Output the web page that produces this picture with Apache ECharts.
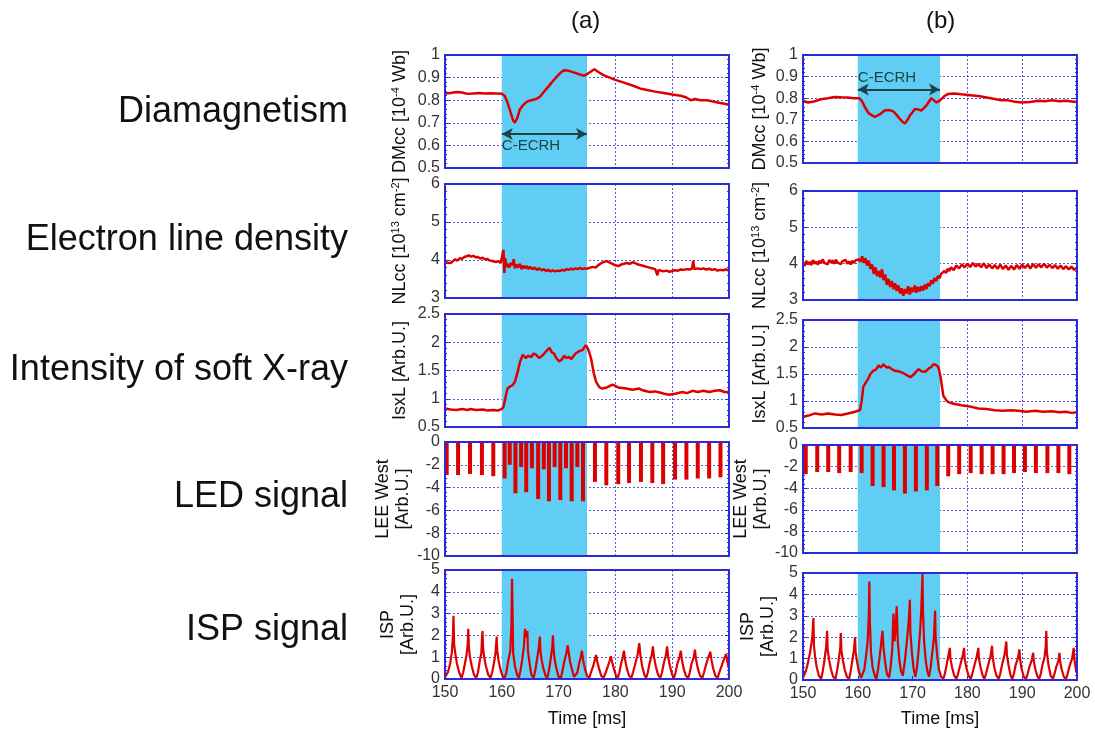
<!DOCTYPE html>
<html><head><meta charset="utf-8">
<script src="https://cdn.jsdelivr.net/npm/echarts@6/dist/echarts.min.js"></script>
<style>html,body{margin:0;padding:0;background:#fff}#c{width:1095px;height:729px}</style>
</head><body><div id="c"></div>
<script>
// ---------- data ----------
const COLUMN_TITLES = ['(a)', '(b)'];
const ROW_LABELS = ['Diamagnetism', 'Electron line density', 'Intensity of soft X-ray', 'LED signal', 'ISP signal'];
const Y_NAMES = ['DMcc [10{sup|-4} Wb]', 'NLcc [10{sup|13} cm{sup|-2}]', 'IsxL [Arb.U.]', 'LEE West\n[Arb.U.]', 'ISP\n[Arb.U.]'];
const Y_MIN = [0.5, 3, 0.5, -10, 0];
const Y_MAX = [1, 6, 2.5, 0, 5];
const Y_STEP = [0.1, 1, 0.5, 2, 1];
const X_MIN = 150, X_MAX = 200, X_STEP = 10;
const X_NAME = 'Time [ms]';
const ECRH = [160, 175];
const ECRH_LABEL = 'C-ECRH';
const ECRH_ARROW_Y = [0.65, 0.84];

const DM_A = [[150,0.83],[151,0.832],[152,0.836],[153,0.834],[154,0.828],[155,0.83],[156,0.832],[157,0.83],[158,0.831],[159,0.83],[160,0.829],[160.5,0.82],[161,0.79],[161.5,0.75],[162,0.71],[162.3,0.70],[162.7,0.72],[163.2,0.76],[163.8,0.78],[164.5,0.795],[165.2,0.80],[166,0.805],[166.7,0.815],[167.5,0.84],[168.2,0.86],[169,0.885],[169.9,0.91],[170.5,0.925],[171,0.933],[171.8,0.93],[172.8,0.922],[173.6,0.915],[174.5,0.908],[175.3,0.92],[176.3,0.937],[177,0.925],[178,0.91],[179,0.90],[180,0.89],[181.5,0.878],[183,0.865],[184.3,0.852],[185.6,0.845],[187,0.838],[188.5,0.832],[190,0.825],[191.5,0.82],[192.5,0.812],[193.3,0.80],[194,0.805],[195,0.80],[196.1,0.80],[197,0.795],[198,0.79],[199,0.785],[200,0.78]];
const DM_B = [[150,0.788],[150.9,0.78],[152,0.785],[153.3,0.795],[154.5,0.80],[155.8,0.806],[157,0.804],[158.2,0.803],[159.3,0.80],[160.3,0.80],[160.8,0.785],[161.3,0.758],[162,0.73],[163.1,0.713],[164,0.725],[164.9,0.743],[165.6,0.745],[166.4,0.74],[167,0.725],[167.6,0.706],[168.2,0.69],[168.6,0.683],[169.1,0.70],[169.5,0.72],[170,0.735],[170.4,0.75],[171,0.748],[171.6,0.743],[172.1,0.755],[172.5,0.766],[173,0.785],[173.4,0.80],[173.9,0.79],[174.4,0.78],[175,0.79],[175.3,0.796],[175.8,0.81],[176.5,0.82],[177.5,0.822],[178.9,0.818],[180.5,0.814],[182,0.81],[183.5,0.803],[185,0.796],[186.2,0.79],[187.4,0.79],[188.7,0.784],[189.9,0.78],[191.4,0.782],[192.9,0.788],[194.2,0.786],[195.4,0.79],[196.8,0.786],[198,0.788],[199,0.785],[200,0.782]];

const NL_A = [[150,4.00],[150.3,3.93],[150.6,3.96],[151,3.92],[151.4,3.97],[151.8,4.02],[152.2,3.98],[152.6,4.05],[153,4.03],[153.4,4.08],[153.8,4.10],[154.2,4.12],[154.6,4.09],[155,4.11],[155.4,4.07],[155.8,4.08],[156.2,4.04],[156.6,4.06],[157,4.02],[157.4,4.03],[157.8,3.99],[158.2,3.98],[158.6,3.96],[159,3.95],[159.4,3.97],[159.8,3.92],[160.1,3.96],[160.3,4.27],[160.45,3.66],[160.6,4.05],[160.8,3.82],[161,3.9],[161.3,3.8],[161.6,3.92],[161.9,3.86],[162.1,4.02],[162.3,3.78],[162.6,3.88],[162.9,3.8],[163.2,3.9],[163.5,3.76],[163.8,3.85],[164.1,3.78],[164.4,3.84],[164.7,3.76],[165,3.82],[165.4,3.76],[165.8,3.80],[166.2,3.74],[166.6,3.78],[167,3.73],[167.4,3.76],[167.8,3.71],[168.2,3.74],[168.6,3.70],[169,3.73],[169.4,3.70],[169.8,3.72],[170.2,3.71],[170.6,3.74],[171,3.72],[171.4,3.76],[171.8,3.74],[172.2,3.77],[172.6,3.75],[173,3.78],[173.4,3.76],[173.8,3.79],[174.2,3.76],[174.6,3.78],[175,3.77],[175.5,3.80],[176,3.82],[176.5,3.80],[177,3.86],[177.5,3.92],[178,3.95],[178.5,3.97],[179,3.93],[179.5,3.90],[180,3.86],[180.5,3.84],[181,3.88],[181.5,3.90],[182,3.92],[182.5,3.90],[183,3.94],[183.5,3.92],[184,3.88],[184.5,3.86],[185,3.84],[185.5,3.82],[186,3.80],[186.5,3.78],[187,3.76],[187.4,3.60],[187.6,3.74],[188,3.72],[188.5,3.70],[189,3.72],[189.5,3.69],[190,3.71],[190.5,3.73],[191,3.72],[191.5,3.75],[192,3.74],[192.5,3.76],[193,3.75],[193.5,3.77],[193.7,3.98],[193.9,3.76],[194.5,3.78],[195,3.76],[195.5,3.78],[196,3.75],[196.5,3.77],[197,3.74],[197.5,3.76],[198,3.72],[198.5,3.74],[199,3.73],[199.5,3.75],[200,3.72]];
const NL_B = [[150,4.02],[150.3,3.94],[150.6,4.08],[150.9,3.98],[151.2,4.05],[151.5,3.96],[151.8,4.10],[152.1,4.00],[152.4,4.06],[152.7,3.97],[153,4.08],[153.3,4.01],[153.6,4.12],[153.9,4.02],[154.2,4.07],[154.5,3.98],[154.8,4.10],[155.1,4.03],[155.4,4.09],[155.7,4.00],[156,4.11],[156.3,4.03],[156.6,4.08],[156.9,3.99],[157.2,4.07],[157.5,4.02],[157.8,4.10],[158.1,4.00],[158.4,4.06],[158.7,3.98],[159,4.08],[159.3,4.02],[159.6,4.09],[159.9,4.04],[160.2,4.12],[160.5,4.05],[160.8,4.20],[161.1,4.02],[161.4,4.15],[161.7,3.95],[162,4.08],[162.3,3.86],[162.6,3.98],[162.9,3.72],[163.2,3.90],[163.5,3.66],[163.8,3.80],[164.1,3.62],[164.4,3.85],[164.7,3.55],[165,3.70],[165.3,3.42],[165.6,3.58],[165.9,3.36],[166.2,3.52],[166.5,3.30],[166.8,3.46],[167.1,3.25],[167.4,3.40],[167.7,3.18],[168,3.32],[168.3,3.12],[168.6,3.30],[168.9,3.18],[169.2,3.38],[169.5,3.15],[169.8,3.34],[170.1,3.22],[170.4,3.40],[170.7,3.20],[171,3.36],[171.3,3.24],[171.6,3.38],[171.9,3.26],[172.2,3.42],[172.5,3.30],[172.8,3.46],[173.1,3.38],[173.4,3.54],[173.7,3.45],[174,3.60],[174.3,3.52],[174.6,3.66],[174.9,3.60],[175.2,3.72],[175.5,3.68],[175.8,3.80],[176.1,3.74],[176.4,3.86],[176.7,3.80],[177,3.90],[177.5,3.82],[178,3.95],[178.5,3.87],[179,3.98],[179.5,3.90],[180,4.00],[180.5,3.91],[181,4.02],[181.5,3.92],[182,3.99],[182.5,3.90],[183,4.01],[183.5,3.88],[184,3.98],[184.5,3.87],[185,3.96],[185.5,3.86],[186,3.97],[186.5,3.85],[187,3.95],[187.5,3.83],[188,3.94],[188.5,3.84],[189,3.96],[189.5,3.86],[190,3.98],[190.5,3.88],[191,3.97],[191.5,3.87],[192,3.99],[192.5,3.89],[193,3.98],[193.5,3.90],[194,4.00],[194.5,3.89],[195,3.97],[195.5,3.88],[196,3.96],[196.5,3.86],[197,3.95],[197.5,3.85],[198,3.93],[198.5,3.84],[199,3.92],[199.5,3.83],[200,3.90]];

const SX_A = [[150,0.83],[151,0.81],[152,0.80],[153,0.82],[154,0.80],[154.4,0.82],[155.5,0.80],[156.7,0.81],[157.5,0.79],[158.5,0.80],[159.3,0.79],[160,0.82],[160.3,0.86],[160.7,1.05],[161,1.18],[161.5,1.22],[161.9,1.24],[162.3,1.30],[162.8,1.48],[163.2,1.65],[163.7,1.78],[164.2,1.72],[164.6,1.76],[165.2,1.74],[165.6,1.8],[166,1.78],[166.6,1.72],[167.2,1.77],[167.8,1.84],[168.4,1.9],[168.8,1.82],[169.2,1.80],[169.6,1.72],[170.1,1.66],[170.6,1.70],[171,1.76],[171.3,1.72],[171.8,1.74],[172.2,1.70],[172.5,1.74],[173,1.80],[173.6,1.84],[174.2,1.86],[174.8,1.95],[175.2,1.88],[175.7,1.72],[176.2,1.45],[176.6,1.30],[177.2,1.20],[177.7,1.18],[178.5,1.20],[179.5,1.25],[180.5,1.20],[181.9,1.18],[183,1.16],[184.2,1.18],[184.8,1.15],[186,1.12],[187,1.13],[187.8,1.11],[188.6,1.09],[189.5,1.07],[190.5,1.09],[191.8,1.12],[192.6,1.10],[193.6,1.14],[194.5,1.12],[195.5,1.14],[196.5,1.12],[197.5,1.14],[198.4,1.15],[199.2,1.12],[200,1.12]];
const SX_B = [[150,0.71],[151,0.73],[152.2,0.77],[153.4,0.75],[154.6,0.77],[155.8,0.75],[157,0.74],[158.2,0.77],[159.5,0.80],[160.4,0.83],[160.7,1.00],[161,1.26],[161.5,1.35],[161.9,1.41],[162.3,1.50],[162.8,1.56],[163.3,1.58],[163.8,1.66],[164.2,1.62],[164.7,1.68],[165.2,1.62],[165.7,1.63],[166.2,1.59],[166.8,1.56],[167.4,1.55],[168,1.53],[168.6,1.50],[169.1,1.47],[169.6,1.44],[170.1,1.48],[170.6,1.54],[171.1,1.59],[171.6,1.55],[172.3,1.54],[172.9,1.60],[173.4,1.63],[173.8,1.68],[174.2,1.67],[174.7,1.63],[175.1,1.45],[175.6,1.10],[176.1,1.02],[176.5,0.98],[177.5,0.95],[178.9,0.92],[180.4,0.90],[182,0.86],[183.5,0.85],[185,0.83],[186.5,0.82],[188,0.83],[189.3,0.82],[190.8,0.80],[192.3,0.82],[193.8,0.80],[195.4,0.81],[196.8,0.79],[198,0.80],[199,0.78],[200,0.79]];

const LED_A = [[150.3,-2.9],[152.3,-2.9],[154.4,-2.8],[156.5,-2.9],[158.5,-3.0],[160.5,-3.2],[161.4,-2.0],[162.4,-4.5],[163.4,-2.2],[164.3,-4.4],[165.3,-2.3],[166.4,-5.0],[167.4,-2.4],[168.3,-5.2],[169.3,-2.2],[170.3,-5.1],[171.3,-2.3],[172.3,-5.2],[173.3,-2.2],[174.3,-5.2],[176.4,-3.5],[178.4,-3.8],[180.5,-3.7],[182.4,-3.6],[184.5,-3.5],[186.5,-3.6],[188.4,-3.7],[190.5,-3.3],[192.5,-3.3],[194.5,-3.2],[196.5,-3.2],[198.5,-3.1]];
const LED_B = [[150.5,-2.7],[152.6,-2.5],[154.6,-2.5],[156.6,-2.6],[158.7,-2.5],[160.7,-2.6],[162.7,-3.8],[164.7,-3.9],[166.6,-4.2],[168.6,-4.5],[170.6,-4.3],[172.6,-4.2],[174.5,-3.8],[176.5,-2.9],[178.5,-2.7],[180.6,-2.6],[182.6,-2.7],[184.6,-2.7],[186.6,-2.7],[188.5,-2.6],[190.5,-2.5],[192.5,-2.6],[194.6,-2.6],[196.6,-2.6],[198.6,-2.7]];

const ISP_A = [[150,0.1],[150.5,0.3],[150.9,0.7],[151.2,1.2],[151.4,2.0],[151.5,2.9],[151.6,1.6],[151.8,1.2],[152.1,0.7],[152.5,0.3],[152.9,0.05],
[153.2,0.3],[153.5,0.7],[153.8,1.1],[154.0,1.6],[154.1,2.3],[154.2,1.5],[154.4,1.0],[154.7,0.6],[155.1,0.2],[155.5,0.05],
[155.8,0.3],[156.1,0.8],[156.4,1.2],[156.5,1.8],[156.6,2.2],[156.7,1.4],[156.9,1.0],[157.2,0.6],[157.6,0.2],[158.0,0.05],
[158.3,0.3],[158.6,0.7],[158.9,1.2],[159.0,1.6],[159.1,1.95],[159.2,1.3],[159.4,0.9],[159.7,0.5],[160.1,0.15],[160.5,0.05],
[160.8,0.3],[161.1,0.8],[161.5,1.3],[161.7,2.5],[161.8,4.6],[161.9,3.0],[162.0,1.2],[162.3,0.6],[162.7,0.2],[163.0,0.05],
[163.3,0.4],[163.6,0.9],[163.9,1.5],[164.0,2.0],[164.1,2.3],[164.3,1.9],[164.5,2.2],[164.6,1.3],[164.9,0.7],[165.2,0.2],[165.6,0.05],
[165.9,0.4],[166.2,0.9],[166.5,1.4],[166.7,1.95],[166.8,1.3],[167.0,0.9],[167.3,0.5],[167.7,0.15],[168.0,0.05],
[168.3,0.4],[168.6,0.9],[168.9,1.5],[169.0,2.0],[169.1,1.4],[169.3,0.9],[169.6,0.5],[170.0,0.1],[170.4,0.05],
[170.7,0.4],[171.0,0.8],[171.4,1.2],[171.6,1.55],[171.8,1.2],[172.0,0.8],[172.4,0.4],[172.7,0.1],[173.0,0.05],
[173.3,0.3],[173.6,0.7],[173.9,1.0],[174.1,1.3],[174.3,0.9],[174.6,0.5],[175.0,0.15],[175.4,0.05],
[175.7,0.3],[176.1,0.6],[176.4,0.9],[176.6,1.1],[176.8,0.8],[177.1,0.5],[177.5,0.15],[177.9,0.05],
[178.3,0.3],[178.7,0.6],[179.0,0.85],[179.2,1.05],[179.4,0.8],[179.7,0.5],[180.1,0.15],[180.4,0.05],
[180.7,0.3],[181.0,0.7],[181.3,1.0],[181.5,1.3],[181.7,0.9],[182.0,0.5],[182.4,0.15],[182.8,0.05],
[183.1,0.3],[183.5,0.7],[183.9,1.1],[184.2,1.65],[184.4,1.1],[184.7,0.6],[185.1,0.2],[185.4,0.05],
[185.7,0.3],[186.0,0.7],[186.4,1.1],[186.6,1.5],[186.8,1.0],[187.1,0.6],[187.5,0.2],[187.9,0.05],
[188.2,0.3],[188.5,0.7],[188.9,1.1],[189.1,1.5],[189.3,1.0],[189.6,0.6],[190.0,0.2],[190.3,0.05],
[190.6,0.3],[190.9,0.7],[191.3,1.0],[191.5,1.3],[191.7,0.9],[192.0,0.5],[192.4,0.15],[192.8,0.05],
[193.1,0.3],[193.4,0.7],[193.8,1.0],[194.0,1.35],[194.2,0.9],[194.5,0.5],[194.9,0.15],[195.3,0.05],
[195.6,0.3],[195.9,0.6],[196.3,0.95],[196.7,1.25],[196.9,0.9],[197.2,0.5],[197.6,0.15],[198.0,0.05],
[198.3,0.3],[198.7,0.6],[199.1,0.9],[199.5,1.15],[199.7,0.8],[200,0.5]];
const ISP_B = [[150,0.1],[150.5,0.4],[150.9,0.8],[151.3,1.3],[151.7,2.0],[151.9,2.9],[152.0,1.6],[152.2,1.1],[152.5,0.6],[152.9,0.2],[153.3,0.05],
[153.6,0.4],[153.9,0.9],[154.2,1.5],[154.4,2.3],[154.5,1.4],[154.8,0.9],[155.1,0.5],[155.5,0.15],[155.9,0.05],
[156.2,0.4],[156.5,0.9],[156.8,1.5],[156.9,2.2],[157.0,1.4],[157.3,0.9],[157.6,0.5],[158.0,0.15],[158.4,0.05],
[158.7,0.4],[159.0,0.9],[159.3,1.4],[159.5,2.0],[159.6,1.3],[159.9,0.8],[160.2,0.4],[160.6,0.1],[160.9,0.05],
[161.2,0.5],[161.5,1.1],[161.8,1.8],[162.0,3.0],[162.1,4.6],[162.2,2.8],[162.4,1.3],[162.7,0.6],[163.1,0.2],[163.4,0.05],
[163.7,0.5],[164.0,1.1],[164.3,1.8],[164.5,2.3],[164.7,1.5],[165.0,0.8],[165.3,0.3],[165.7,0.1],
[166.0,0.6],[166.3,1.5],[166.5,3.1],[166.7,1.8],[166.9,2.4],[167.1,3.45],[167.3,1.8],[167.6,0.9],[167.9,0.4],[168.2,0.2],
[168.5,0.7],[168.8,1.4],[169.1,2.2],[169.3,2.8],[169.5,3.75],[169.6,2.2],[169.9,1.2],[170.2,0.5],[170.5,0.15],
[170.8,0.6],[171.1,1.4],[171.4,2.4],[171.6,3.4],[171.8,4.95],[171.9,3.2],[172.1,1.8],[172.4,0.9],[172.7,0.4],[173.0,0.15],
[173.3,0.6],[173.6,1.3],[173.9,2.0],[174.1,3.25],[174.2,2.0],[174.5,1.1],[174.8,0.5],[175.2,0.15],[175.6,0.05],
[175.9,0.3],[176.2,0.7],[176.5,1.1],[176.8,1.5],[176.9,1.0],[177.2,0.6],[177.6,0.2],[178.0,0.05],
[178.3,0.3],[178.7,0.7],[179.1,1.1],[179.4,1.5],[179.5,1.0],[179.8,0.6],[180.2,0.2],[180.6,0.05],
[180.9,0.3],[181.3,0.7],[181.7,1.1],[182.0,1.5],[182.1,1.0],[182.4,0.6],[182.8,0.2],[183.1,0.05],
[183.4,0.3],[183.8,0.7],[184.2,1.1],[184.5,1.6],[184.6,1.1],[184.9,0.6],[185.3,0.2],[185.7,0.05],
[186.0,0.3],[186.4,0.8],[186.8,1.2],[187.1,1.8],[187.2,1.2],[187.5,0.7],[187.9,0.2],[188.2,0.05],
[188.5,0.3],[188.8,0.7],[189.2,1.0],[189.5,1.43],[189.6,1.0],[189.9,0.5],[190.3,0.15],[190.7,0.05],
[191.0,0.3],[191.3,0.6],[191.7,0.9],[192.0,1.27],[192.1,0.9],[192.4,0.5],[192.8,0.15],[193.1,0.05],
[193.4,0.3],[193.7,0.7],[194.1,1.1],[194.3,1.6],[194.4,2.3],[194.5,1.3],[194.8,0.7],[195.2,0.2],[195.6,0.05],
[195.9,0.3],[196.2,0.6],[196.6,0.9],[196.8,1.27],[196.9,0.9],[197.2,0.5],[197.6,0.15],[198.0,0.05],
[198.3,0.3],[198.7,0.7],[199.1,1.0],[199.4,1.5],[199.5,1.0],[199.8,0.5],[200,0.3]];

const SERIES_DATA = [[DM_A, NL_A, SX_A, LED_A, ISP_A], [DM_B, NL_B, SX_B, LED_B, ISP_B]];

// ---------- layout / style ----------
const FONT = '"Liberation Sans", Arial, sans-serif';
const RED = '#dd0000';
const BLUE = '#2a2ad6';
const GRIDBLUE = '#3c3cd2';
const SHADE = '#5fcdf4';
const LAYOUT = [
  {left: 445, width: 284, tops: [55, 184, 314, 442, 570], heights: [113, 114, 113, 114, 113], nameGap: [35, 35, 35, 27, 27], xNameGap: 25},
  {left: 803, width: 274, tops: [55, 191, 320, 445, 573], heights: [108, 109, 108, 108, 107], nameGap: [33, 33, 33, 25, 25], xNameGap: 24}
];
const TITLE_POS = [[585, 22], [940, 22]];
const ROW_LABEL_Y = [112, 240, 370, 497, 630];
const LINE_W = [2.5, 2.5, 2.5, 0, 2.2];

const grids = [], xAxes = [], yAxes = [], series = [];
LAYOUT.forEach((L, c) => {
  for (let r = 0; r < 5; r++) {
    const gi = grids.length;
    grids.push({left: L.left, top: L.tops[r], width: L.width, height: L.heights[r], show: true,
      borderColor: BLUE, borderWidth: 2, backgroundColor: 'transparent', z: 3, containLabel: false});
    const split = {show: true, lineStyle: {color: GRIDBLUE, type: [2, 2], width: 1, opacity: 0.85}};
    xAxes.push({gridIndex: gi, type: 'value', min: X_MIN, max: X_MAX, interval: X_STEP, z: 1,
      axisLine: {show: false}, axisTick: {show: r === 4, inside: true, length: 4, lineStyle: {color: BLUE}},
      axisLabel: {show: r === 4, fontSize: 16, color: '#333', fontFamily: FONT, margin: 6},
      splitLine: split,
      name: r === 4 ? X_NAME : '', nameLocation: 'middle', nameGap: L.xNameGap + 6,
      nameTextStyle: {fontSize: 18, color: '#111', fontFamily: FONT}});
    const common = {gridIndex: gi, type: 'value', min: Y_MIN[r], max: Y_MAX[r], interval: Y_STEP[r], z: 1,
      axisLine: {show: false}, axisTick: {show: true, inside: true, length: 4, lineStyle: {color: BLUE}},
      minorTick: {show: true, splitNumber: 5, length: 2, lineStyle: {color: BLUE}}};
    yAxes.push(Object.assign({}, common, {position: 'left',
      axisLabel: {fontSize: 16, color: '#333', fontFamily: FONT, margin: 5},
      splitLine: split,
      name: Y_NAMES[r], nameLocation: 'middle', nameRotate: 90, nameGap: L.nameGap[r],
      nameTextStyle: {fontSize: 18, color: '#111', fontFamily: FONT, lineHeight: 20,
        rich: {sup: {fontSize: 11, fontFamily: FONT, color: '#111', verticalAlign: 'top', padding: [0, 0, 9, 0]}}}}));
    yAxes.push(Object.assign({}, common, {position: 'right', axisLabel: {show: false}, splitLine: {show: false}}));
    const yi = yAxes.length - 2;
    // shaded ECRH window
    series.push({type: 'line', xAxisIndex: gi, yAxisIndex: yi, data: [[X_MIN, Y_MIN[r]]], symbol: 'none', z: 0,
      lineStyle: {opacity: 0}, silent: true,
      markArea: {silent: true, itemStyle: {color: SHADE, opacity: 1}, data: [[{xAxis: ECRH[0]}, {xAxis: ECRH[1]}]]}});
    const d = SERIES_DATA[c][r];
    if (r === 3) {
      series.push({type: 'bar', xAxisIndex: gi, yAxisIndex: yi, data: d, barWidth: 4, z: 2, silent: true,
        itemStyle: {color: RED}});
    } else {
      const s = {type: 'line', xAxisIndex: gi, yAxisIndex: yi, data: d, symbol: 'none', z: 2, silent: true,
        lineStyle: {color: RED, width: LINE_W[r]}};
      if (r === 0) {
        s.markLine = {silent: true, symbol: ['arrow', 'arrow'], symbolSize: [9, 11], animation: false,
          lineStyle: {color: '#1b4448', width: 2, type: 'solid'},
          label: {show: true, formatter: ECRH_LABEL, position: c === 0 ? 'insideStartBottom' : 'insideStartTop',
            fontSize: 15, color: '#1b4448', fontFamily: FONT, distance: [0, 4]},
          data: [[{coord: [ECRH[0], ECRH_ARROW_Y[c]]}, {coord: [ECRH[1], ECRH_ARROW_Y[c]]}]]};
      }
      series.push(s);
    }
  }
});

const graphics = [];
COLUMN_TITLES.forEach((t, c) => graphics.push({type: 'text', left: TITLE_POS[c][0] - 14, top: TITLE_POS[c][1] - 13,
  style: {text: t, fontSize: 24, fontFamily: FONT, fill: '#111'}}));
ROW_LABELS.forEach((t, r) => graphics.push({type: 'text', x: 348, y: ROW_LABEL_Y[r],
  style: {text: t, fontSize: 36, fontFamily: FONT, fill: '#111', align: 'right', verticalAlign: 'middle'}}));

const chart = echarts.init(document.getElementById('c'), null, {renderer: 'canvas'});
chart.setOption({animation: false, backgroundColor: '#fff', grid: grids, xAxis: xAxes, yAxis: yAxes, series, graphic: graphics});
</script></body></html>
